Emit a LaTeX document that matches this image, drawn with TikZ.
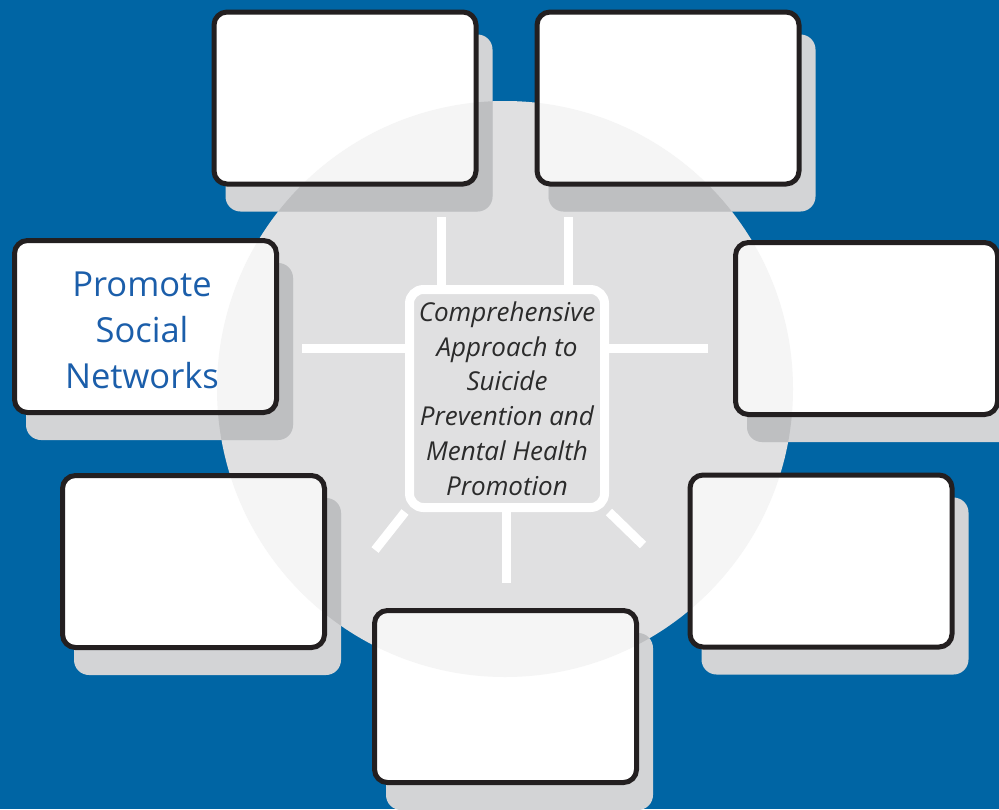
\documentclass[tikz,border=0pt]{standalone}
\usepackage{fontspec}
\setmainfont{Open Sans}
\usetikzlibrary{calc}
\definecolor{bgblue}{HTML}{0065A4}
\definecolor{circgray}{HTML}{E0E0E1}
\definecolor{faint}{HTML}{F5F5F5}
\definecolor{shadowlight}{HTML}{D3D4D6}
\definecolor{shadowdark}{HTML}{BEBFC1}
\definecolor{boxline}{HTML}{231F20}
\definecolor{ctext}{HTML}{2B2B2B}
\definecolor{promoblue}{HTML}{1B5EAA}
\pgfdeclarelayer{bg}
\pgfsetlayers{bg,main}
\begin{document}
\begin{tikzpicture}[x=1pt,y=-1pt,
  boxst/.style={draw=boxline, line width=5pt, fill=white, rounded corners=13pt,
    minimum width=262pt, minimum height=172pt, inner sep=0pt,
    path picture={\fill[faint] (cc) circle[radius=288];}},
  shadowst/.style={fill=shadowlight, rounded corners=15pt,
    path picture={\fill[shadowdark] (cc) circle[radius=288];}},
  cboxst/.style={draw=white, line width=9pt, fill=circgray, rounded corners=14pt,
    minimum width=195pt, minimum height=218pt, inner sep=0pt, align=center,
    font=\itshape\fontsize{26}{34.7}\selectfont, text=ctext},
  labelst/.style={text=promoblue, font=\fontsize{34.5}{46}\selectfont, align=center, inner sep=0pt},
  spoke/.style={draw=white, line width=9pt}
]
\useasboundingbox (0,0) rectangle (999,809);
\coordinate (cc) at (505,389);

\node[boxst] (tl) at (345,98) {};
\node[boxst] (tr) at (668,98) {};
\node[boxst] (l) at (145.5,326.5) {};
\node[labelst] (ltext) at (142,330) {Promote\\Social\\Networks};
\node[boxst] (r) at (866.5,328.5) {};
\node[boxst] (bl) at (193.5,561.5) {};
\node[boxst] (br) at (821,561) {};
\node[boxst] (b) at (505.5,696.5) {};

\node[cboxst] (cbox) at (507,398.5) {Comprehensive\\Approach to\\Suicide\\Prevention and\\Mental Health\\Promotion};

\coordinate (e1) at (441,217);
\coordinate (e2) at (568,217);
\coordinate (e3) at (302,348);
\coordinate (e4) at (708,348);
\coordinate (e5) at (506,583);
\coordinate (e6) at (375,550);
\coordinate (e7) at (643,545);

\begin{pgfonlayer}{bg}
\fill[bgblue] (0,0) rectangle (999,809);
\fill[circgray] (cc) circle[radius=288];
\foreach \n in {tl,tr,l,r,bl,br,b}{
  \fill[shadowst] ($(\n.north west)+(14,25)$) rectangle ($(\n.south east)+(14,25)$);
}
\draw[spoke] (e1) -- (e1 |- cbox.north);
\draw[spoke] (e2) -- (e2 |- cbox.north);
\draw[spoke] (e3) -- (e3 -| cbox.west);
\draw[spoke] (e4) -- (e4 -| cbox.east);
\draw[spoke] (e5) -- (e5 |- cbox.south);
\draw[spoke] (e6) -- (cbox.south west);
\draw[spoke] (e7) -- (cbox.south east);
\end{pgfonlayer}
\end{tikzpicture}
\end{document}
